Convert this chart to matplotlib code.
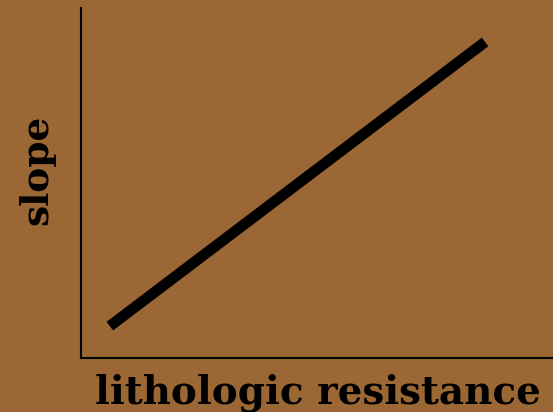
import matplotlib
matplotlib.use("Agg")
import matplotlib.pyplot as plt

x_vals = [0.61, 8.56]
y_vals = [0.91, 9.03]
x_label = "lithologic resistance"
y_label = "slope"

bg = "#9B6835"
fig = plt.figure(figsize=(5.53, 4.12), dpi=100, facecolor=bg)
ax = fig.add_axes([81/553, 54/412, 472/553, 350/412])
ax.set_facecolor(bg)
ax.plot(x_vals, y_vals, color="black", linewidth=7.8, solid_capstyle="butt")
ax.set_xlim(0, 10)
ax.set_ylim(0, 10)
ax.set_xticks([])
ax.set_yticks([])
for s in ["top", "right"]:
    ax.spines[s].set_visible(False)
for s in ["left", "bottom"]:
    ax.spines[s].set_linewidth(1.5)
    ax.spines[s].set_color("black")

fig.text(318/553, 1 - 403/412, x_label, ha="center", va="baseline",
         fontsize=28, fontweight="bold", family="DejaVu Serif")
fig.text(47/553, 1 - 170/412, y_label, ha="center", va="baseline", rotation=90,
         rotation_mode="anchor", fontsize=27, fontweight="bold", family="DejaVu Serif")

fig.savefig("out.png", dpi=100, facecolor=bg)
